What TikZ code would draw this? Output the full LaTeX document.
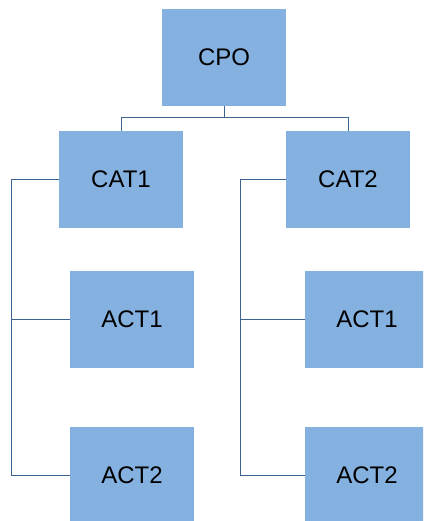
\documentclass[tikz,border=0pt]{standalone}
\usepackage{fontspec}
\setmainfont{Liberation Sans}
\definecolor{boxfill}{HTML}{84B1E0}
\definecolor{linkcol}{HTML}{3D6390}
\begin{document}
\begin{tikzpicture}[x=1pt,y=-1pt,
  unit/.style={rectangle, fill=boxfill, draw=none, minimum width=124pt,
    minimum height=97pt, inner sep=0pt, font=\fontsize{24}{28}\selectfont},
  link/.style={draw=linkcol, line width=1pt}]
\useasboundingbox (0,0) rectangle (423,521);
\clip (0,0) rectangle (423,521);
\fill[white] (0,0) rectangle (423,521);

% boxes
\node[unit] (cpo)  at (224,57.5)  {CPO};
\node[unit] (cat1) at (121,179.5) {CAT1};
\node[unit] (cat2) at (348,179.5) {CAT2};
\node[unit] (a11)  at (132,319.5) {ACT1};
\node[unit] (a12)  at (132,475.5) {ACT2};
\node[unit] (a21)  at (367,319.5) {ACT1};
\node[unit] (a22)  at (367,475.5) {ACT2};

% trunk points
\coordinate (split) at (224,117.5);
\coordinate (t1) at (11,179.5);
\coordinate (t2) at (240,179.5);

% connectors
\draw[link] (cpo.south) -- (split) -| (cat1.north);
\draw[link] (split) -| (cat2.north);
\draw[link] (cat1.west) -- (t1) |- (a11.west);
\draw[link] (t1) |- (a12.west);
\draw[link] (cat2.west) -- (t2) |- (a21.west);
\draw[link] (t2) |- (a22.west);
\end{tikzpicture}
\end{document}
